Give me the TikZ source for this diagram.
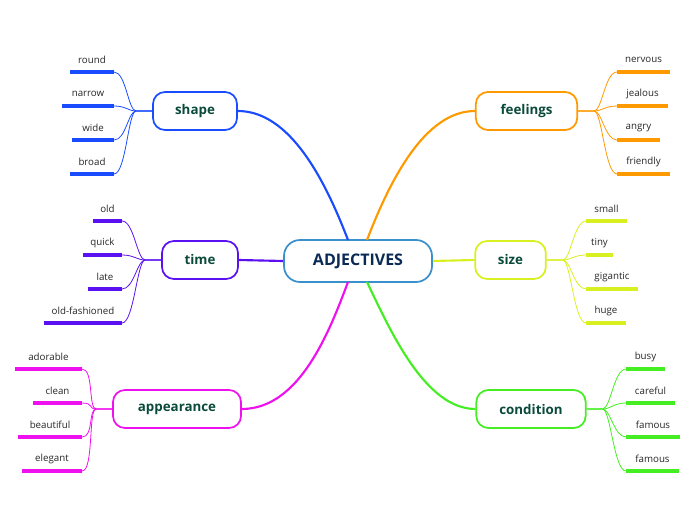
\documentclass[tikz,border=0pt]{standalone}
\usepackage{fontspec}
\setmainfont{Open Sans}
\definecolor{cshape}{HTML}{1A4CFF}
\definecolor{ctime}{HTML}{5A10F0}
\definecolor{capp}{HTML}{EE10EE}
\definecolor{cfeel}{HTML}{FF9900}
\definecolor{csize}{HTML}{D8F020}
\definecolor{ccond}{HTML}{44EE22}
\definecolor{ccent}{HTML}{3A90CC}
\definecolor{ctxt}{HTML}{0A2A55}
\definecolor{btxt}{HTML}{0A4A3A}
\begin{document}
\begin{tikzpicture}[x=0.75pt,y=-0.75pt,
 branch/.style={draw=#1,line width=1.3pt,rounded corners=9pt,minimum height=28.5pt,inner sep=0pt,font=\fontsize{10}{12}\selectfont\bfseries,text=btxt},
 leaf/.style={font=\fontsize{7.3}{8}\selectfont,text=black!85,inner sep=0pt},
 conn/.style={draw=#1,line width=0.6pt},
 main/.style={draw=#1,line width=1.6pt}]
\useasboundingbox (0,0) rectangle (696,520);
\node[draw=ccent,line width=1.3pt,rounded corners=12pt,minimum width=111pt,minimum height=31.5pt,text=ctxt,font=\fontsize{12}{14}\selectfont\bfseries] (c) at (358,261) {ADJECTIVES};
\node[branch=cshape,minimum width=63pt] (shape) at (195,111) {shape};
\node[branch=ctime,minimum width=57pt] (time) at (200,260) {time};
\node[branch=capp,minimum width=96pt] (app) at (177,409) {appearance};
\node[branch=cfeel,minimum width=76pt] (feel) at (526.5,111) {feelings};
\node[branch=csize,minimum width=53pt] (size) at (510.5,260) {size};
\node[branch=ccond,minimum width=82pt] (cond) at (531,409) {condition};
\coordinate (ct1) at (348,240); \coordinate (ct2) at (367,240);
\coordinate (cb1) at (348,282); \coordinate (cb2) at (367,282);
\draw[main=cshape] (shape.east) .. controls (290,111) and (325,180) .. (ct1);
\draw[main=cfeel] (feel.west) .. controls (425,111) and (390,180) .. (ct2);
\draw[main=capp] (app.east) .. controls (300,409) and (330,330) .. (cb1);
\draw[main=ccond] (cond.west) .. controls (425,409) and (390,330) .. (cb2);
\draw[main=ctime] (time.east) -- (c.west);
\draw[main=csize] (c.east) -- (size.west);
\foreach \n/\t/\y/\a/\b/\col/\bx in {
 s1/round/72/70/114/cshape/shape, s2/narrow/106/62/114/cshape/shape, s3/wide/140/72/114/cshape/shape, s4/broad/174/70/114/cshape/shape,
 t1/old/221/93/122/ctime/time, t2/quick/255/83/122/ctime/time, t3/late/289/88/122/ctime/time, t4/old-fashioned/323/44/122/ctime/time,
 a1/adorable/369/15/82/capp/app, a2/clean/403/33/82/capp/app, a3/beautiful/437/18/82/capp/app, a4/elegant/471/22/82/capp/app}{
 \coordinate (\n l) at (\a,\y); \coordinate (\n r) at (\b,\y);
 \draw[color=\col,line width=2.3pt] (\n l) -- (\n r);
 \node[leaf] (\n) at ({(\a+\b)/2},\y-12) {\t};
 \draw[conn=\col] (\bx.west) -- ++(-16,0) coordinate (\n k) .. controls ++(-8,0) and ++(12,0) .. (\n r);
}
\foreach \n/\t/\y/\a/\b/\col/\bx in {
 f1/nervous/72/617/670/cfeel/feel, f2/jealous/106/617/668/cfeel/feel, f3/angry/140/617/660/cfeel/feel, f4/friendly/174/617/670/cfeel/feel,
 z1/small/221/586/627/csize/size, z2/tiny/255/586/613/csize/size, z3/gigantic/289/586/638/csize/size, z4/huge/323/586/626/csize/size,
 k1/busy/369/626/665/ccond/cond, k2/careful/403/626/675/ccond/cond, k3/famous/437/626/680/ccond/cond, k4/famous/471/626/679/ccond/cond}{
 \coordinate (\n l) at (\a,\y); \coordinate (\n r) at (\b,\y);
 \draw[color=\col,line width=2.3pt] (\n l) -- (\n r);
 \node[leaf] (\n) at ({(\a+\b)/2},\y-12) {\t};
 \draw[conn=\col] (\bx.east) -- ++(16,0) coordinate (\n k) .. controls ++(8,0) and ++(-12,0) .. (\n l);
}
\end{tikzpicture}
\end{document}
